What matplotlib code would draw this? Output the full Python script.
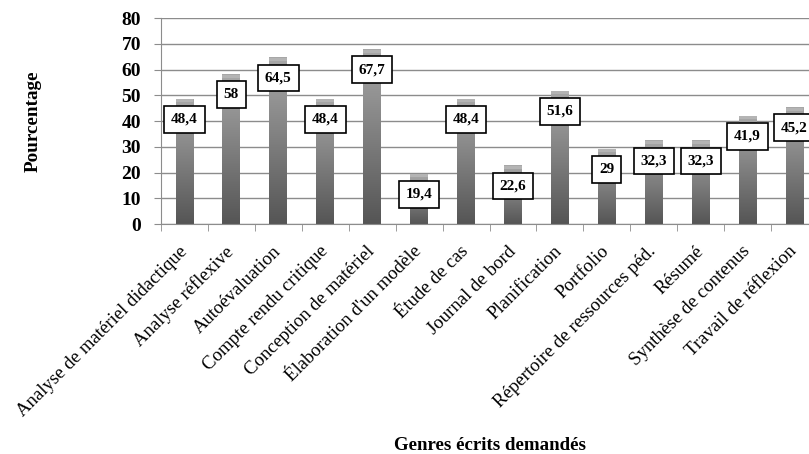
import numpy as np
import matplotlib
matplotlib.use("Agg")
import matplotlib.pyplot as plt
from matplotlib.transforms import ScaledTranslation

# Genres écrits demandés (%)
categories = [
    "Analyse de matériel didactique", "Analyse réflexive", "Autoévaluation",
    "Compte rendu critique", "Conception de matériel", "Élaboration d'un modèle",
    "Étude de cas", "Journal de bord", "Planification", "Portfolio",
    "Répertoire de ressources péd.", "Résumé", "Synthèse de contenus",
    "Travail de réflexion",
]
values = [48.4, 58, 64.5, 48.4, 67.7, 19.4, 48.4, 22.6, 51.6, 29, 32.3, 32.3, 41.9, 45.2]
value_labels = ["48,4", "58", "64,5", "48,4", "67,7", "19,4", "48,4", "22,6", "51,6",
                "29", "32,3", "32,3", "41,9", "45,2"]
yticks = [0, 10, 20, 30, 40, 50, 60, 70, 80]

plt.rcParams["font.family"] = ["Liberation Serif", "DejaVu Serif"]

fig = plt.figure(figsize=(8.09, 4.54), dpi=100)
# axes runs a little past the right edge, like the cropped original
ax = fig.add_axes([161 / 809, 1 - 224 / 454, 657 / 809, 206 / 454])

x = np.arange(len(categories))
width = 0.38

# vertical grey gradient for each bar, lighter cap on top
grad = np.linspace(0, 1, 256).reshape(-1, 1)
cmap = matplotlib.colors.LinearSegmentedColormap.from_list("bar", ["#555555", "#a8a8a8"])
for xi, v in zip(x, values):
    ax.imshow(grad, extent=[xi - width / 2, xi + width / 2, 0, v], origin="lower",
              cmap=cmap, aspect="auto", zorder=2)
    ax.bar(xi, 1.2, width=width, bottom=v - 1.2, color="#b4b4b4", zorder=3)

for xi, v, lab in zip(x, values, value_labels):
    ax.annotate(lab, (xi, v), xytext=(0, -14.5), textcoords="offset points",
                ha="center", va="center", fontsize=11, fontweight="bold",
                bbox=dict(boxstyle="square,pad=0.45", fc="white", ec="black", lw=1.2),
                zorder=5)

ax.set_xlim(-0.5, len(categories) - 0.5)
ax.set_ylim(0, 80)
ax.set_yticks(yticks)
ax.set_yticklabels([str(t) for t in yticks], fontsize=14, fontweight="bold")
ax.yaxis.grid(True, color="#8c8c8c", lw=1.0, zorder=0)
ax.set_axisbelow(True)

ax.set_xticks(x)
ax.set_xticklabels(categories, rotation=45, ha="right", va="center",
                   rotation_mode="anchor", fontsize=13.5)
shift = ScaledTranslation(4 / 100, 0, fig.dpi_scale_trans)
for t in ax.get_xticklabels():
    t.set_transform(t.get_transform() + shift)
ax.set_xticks(np.arange(len(categories) + 1) - 0.5, minor=True)
ax.tick_params(axis="x", which="major", length=0, pad=18)
ax.tick_params(axis="x", which="minor", length=5, color="#8c8c8c", direction="out")
ax.tick_params(axis="y", length=5, color="#8c8c8c", pad=9.4)

for s in ["top", "right"]:
    ax.spines[s].set_visible(False)
for s in ["left", "bottom"]:
    ax.spines[s].set_color("#8c8c8c")

ax.set_ylabel("Pourcentage", fontsize=13.8, fontweight="bold")
ax.yaxis.set_label_coords((33 - 161) / 657, 0.5)
ax.yaxis.label.set_va("center")
ax.set_xlabel("Genres écrits demandés", fontsize=13.6, fontweight="bold")
ax.xaxis.set_label_coords(0.5, (224 - 445) / 206)
ax.xaxis.label.set_va("center")

fig.savefig("out.png", dpi=100)
